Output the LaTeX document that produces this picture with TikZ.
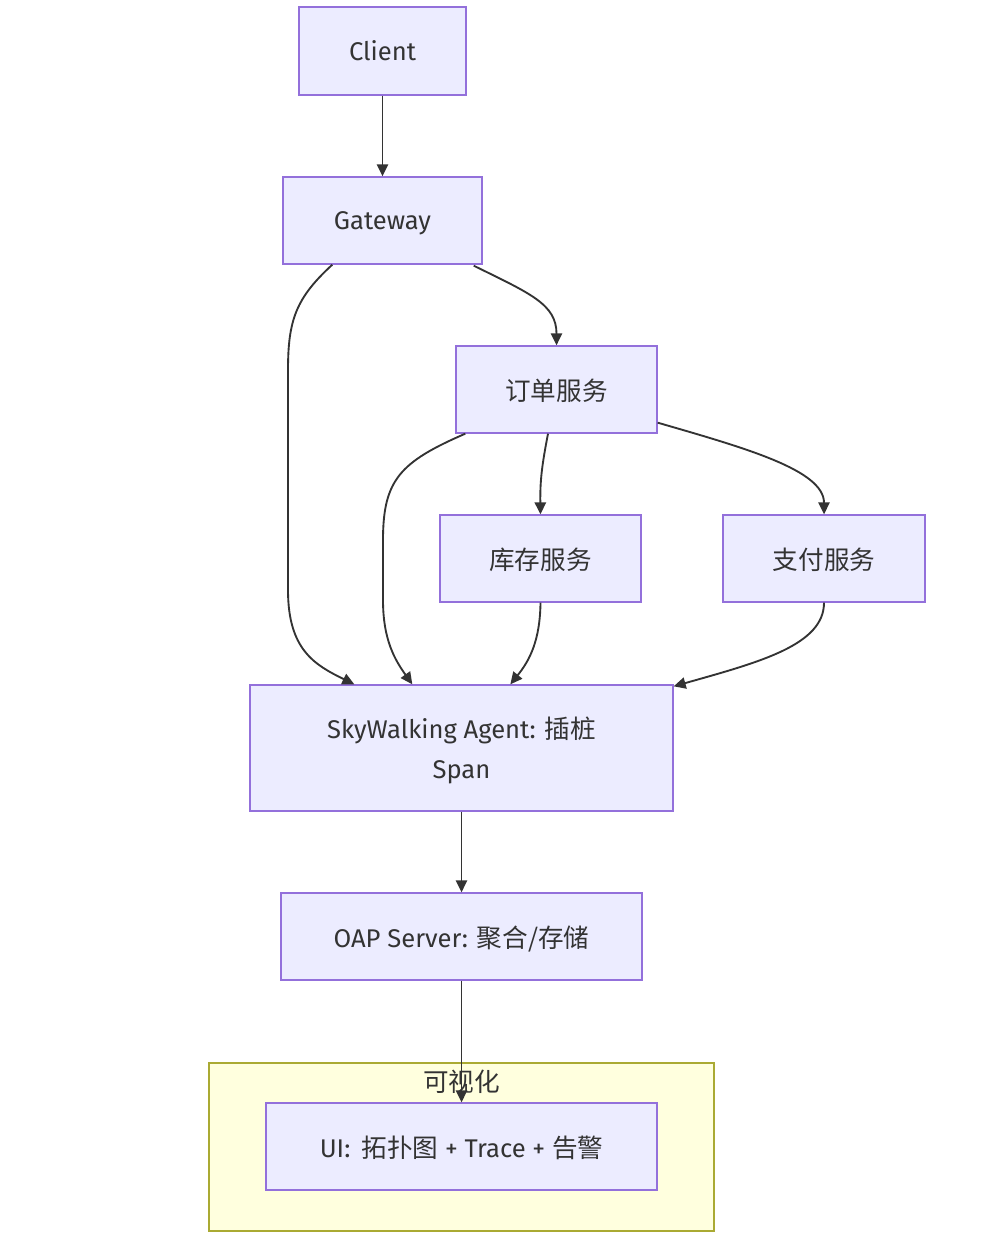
\documentclass[tikz,border=0pt]{standalone}
\usepackage{fontspec}
\setmainfont{Fira Sans}
\newfontfamily\cjk{Noto Sans CJK SC}
\usetikzlibrary{arrows.meta,calc}
\definecolor{nodefill}{HTML}{ECECFF}
\definecolor{nodestroke}{HTML}{9370DB}
\definecolor{edgecol}{HTML}{333333}
\definecolor{txtcol}{HTML}{333333}
\definecolor{grpfill}{HTML}{FFFFDE}
\definecolor{grpstroke}{HTML}{AAAA33}
\tikzset{
  box/.style={draw=nodestroke, fill=nodefill, line width=1pt, inner sep=0pt,
    text=txtcol, font=\fontsize{19.2}{30}\selectfont, align=center,
    text depth=0pt},
  edge/.style={draw=edgecol, line width=1.4pt,
    -{Triangle[length=9pt,width=8.5pt]}},
}
\begin{document}
\begin{tikzpicture}[x=0.75pt,y=-0.75pt]
\useasboundingbox (0,0) rectangle (989,1244);
% subgraph
\draw[fill=grpfill, draw=grpstroke, line width=1pt] (209,1063) rectangle (714,1231);
\node[text=txtcol, font=\fontsize{19.2}{22}\selectfont\cjk] (grplabel) at (461.5,1082) {可视化};
% nodes
\node[box, minimum width=167*0.75pt, minimum height=88*0.75pt] (client) at (382.5,51) {Client};
\node[box, minimum width=199*0.75pt, minimum height=87*0.75pt] (gw) at (382.5,220.5) {Gateway};
\node[box, minimum width=201*0.75pt, minimum height=87*0.75pt] (order) at (556.5,389.5) {\cjk 订单服务};
\node[box, minimum width=201*0.75pt, minimum height=87*0.75pt] (inv) at (540.5,558.5) {\cjk 库存服务};
\node[box, minimum width=202*0.75pt, minimum height=87*0.75pt] (pay) at (824,558.5) {\cjk 支付服务};
\node[box, minimum width=423*0.75pt, minimum height=126*0.75pt] (agent) at (461.5,748) {SkyWalking Agent: {\cjk 插桩}\\Span};
\node[box, minimum width=361*0.75pt, minimum height=87*0.75pt] (oap) at (461.5,936.5) {OAP Server: {\cjk 聚合/存储}};
\node[box, minimum width=391*0.75pt, minimum height=87*0.75pt] (ui) at (461.5,1146.5) {UI:\, {\cjk 拓扑图} + Trace + {\cjk 告警}};
% edges
\draw[edge] (client.south) -- (gw.north);
\draw[edge] ($(gw.south east)+(-9,1)$) .. controls ($(gw.south east)+(48,29)$) and ($(order.north)+(0,-41)$) .. (order.north);
\draw[edge] ($(gw.south west)+(50,0)$) .. controls (296,298) and (288,320) .. (288,370) -- (288,590) .. controls (288,650) and (315,665) .. ($(agent.north west)+(105,0)$);
\draw[edge] ($(order.south west)+(10,0)$) .. controls (400,462) and (383,480) .. (383,540) -- (383,600) .. controls (383,640) and (395,660) .. ($(agent.north west)+(163,0)$);
\draw[edge] ($(order.south)+(-8.5,0)$) .. controls (542,465) and (540,480) .. (inv.north);
\draw[edge] ($(order.south east)+(0,-11)$) .. controls (745,448) and (824,470) .. (pay.north);
\draw[edge] (inv.south) .. controls (540,640) and (530,660) .. ($(agent.north west)+(261,0)$);
\draw[edge] (pay.south) .. controls (824,645) and (760,662) .. ($(agent.north east)+(0,2)$);
\draw[edge] (agent.south) -- (oap.north);
\draw[edge] (oap.south) -- (ui.north);
\end{tikzpicture}
\end{document}
